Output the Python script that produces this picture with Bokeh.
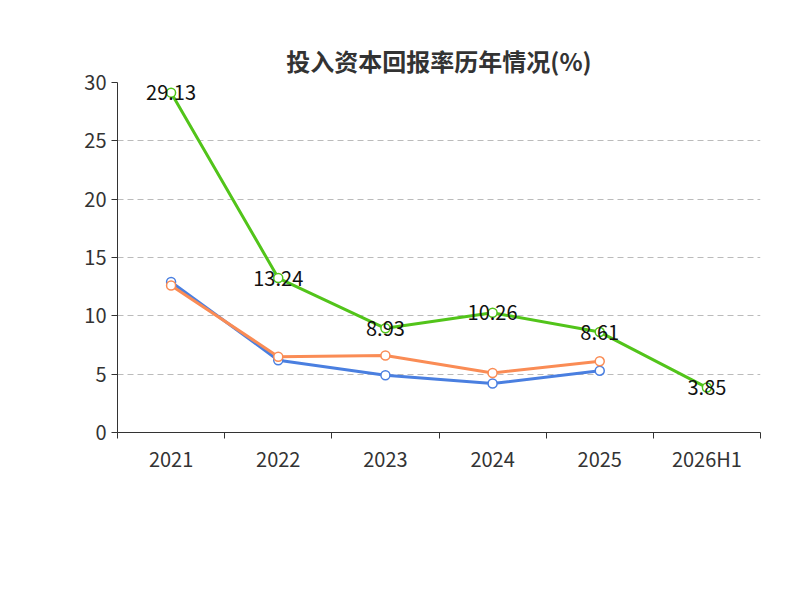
from bokeh.plotting import figure
from bokeh.models import FixedTicker, Legend, LegendItem, Label, ColumnDataSource
from bokeh.embed import file_html
from bokeh.resources import INLINE
from bokeh.core.properties import value

years = ["2021", "2022", "2023", "2024", "2025", "2026H1"]
company = [29.13, 13.24, 8.93, 10.26, 8.61, 3.85]
industry_avg = [12.9, 6.2, 4.9, 4.2, 5.3]
industry_med = [12.6, 6.5, 6.6, 5.1, 6.1]

xs = list(range(len(years)))
font = "Noto Sans CJK SC"

p = figure(width=784, height=584, output_backend="svg", toolbar_location=None,
           x_range=(-0.5, 5.5), y_range=(0, 30),
           min_border_left=117, min_border_right=24, min_border_top=82, min_border_bottom=152)
p.title.text = "投入资本回报率历年情况(%)"
p.title.align = "center"
p.title.text_font = font
p.title.text_font_size = "24px"
p.title.text_color = "#333333"
p.outline_line_color = None
p.xgrid.visible = False
p.ygrid.grid_line_dash = "6 4"
p.ygrid.grid_line_color = "#bbbbbb"

p.xaxis.ticker = FixedTicker(ticks=xs, minor_ticks=[x + 0.5 for x in [-1] + xs])
p.xaxis.major_label_overrides = {i: y for i, y in enumerate(years)}
p.xaxis.major_tick_out = 0
p.xaxis.major_tick_in = 0
p.xaxis.minor_tick_out = 6
p.xaxis.minor_tick_in = 0
p.yaxis.ticker = FixedTicker(ticks=[0, 5, 10, 15, 20, 25, 30])
p.yaxis.major_tick_out = 6
p.yaxis.major_tick_in = 0
for ax in (p.xaxis, p.yaxis):
    ax.major_label_text_font_size = "20px"
    ax.major_label_text_font = font
    ax.major_label_text_color = "#333333"
    ax.axis_line_color = "#333333"
    ax.major_tick_line_color = "#333333"
    ax.minor_tick_line_color = "#333333"
p.yaxis.minor_tick_line_color = None

green, blue, orange = "#52c41a", "#4a7fe0", "#fa8c55"
l1 = p.line(xs, company, line_color=green, line_width=3)
c1 = p.scatter(xs, company, size=9, fill_color="white", line_color=green, line_width=1.5)
l2 = p.line(xs[:5], industry_avg, line_color=blue, line_width=3)
c2 = p.scatter(xs[:5], industry_avg, size=9, fill_color="white", line_color=blue, line_width=1.5)
l3 = p.line(xs[:5], industry_med, line_color=orange, line_width=3)
c3 = p.scatter(xs[:5], industry_med, size=9, fill_color="white", line_color=orange, line_width=1.5)

src = ColumnDataSource(dict(x=xs, y=company, t=[f"{v:.2f}" for v in company]))
p.text(x="x", y="y", text="t", source=src, text_align="center", text_baseline="middle",
       text_font=value(font), text_font_size="20px", text_color="#111111")

p.add_layout(Label(x=-0.5, y=26.8, x_units="data", y_units="data", x_offset=-58, text="(%)",
                   angle=1.5708, text_color="red", text_font_size="14px", text_font=font))

legend = Legend(items=[
    LegendItem(label="公司投入资本回报率", renderers=[l1, c1]),
    LegendItem(label="行业均值", renderers=[l2, c2]),
    LegendItem(label="行业中位数", renderers=[l3, c3]),
], orientation="horizontal", location=(-60, -120), border_line_color=None,
    background_fill_alpha=0,
    label_text_font=font, label_text_font_size="20px", label_text_color="#333333",
    glyph_width=50, spacing=22)
p.add_layout(legend, "center")

p.add_layout(Label(x=321, y=-162, x_units="screen", y_units="screen",
                   text="制图数据来自恒生聚源数据库", text_align="center", text_font=font,
                   text_font_size="15px", text_color="#c8962a"))

open("out.html", "w").write(file_html(p, INLINE))
